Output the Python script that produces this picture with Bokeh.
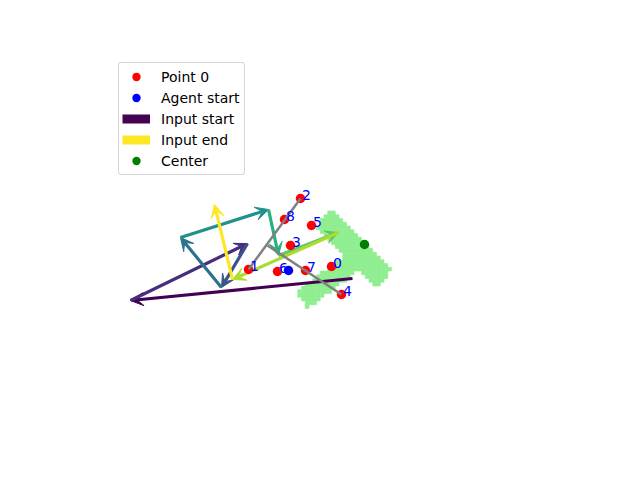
import numpy as np
from bokeh.plotting import figure
from bokeh.models import Range1d, Arrow, VeeHead, Legend, LegendItem
from bokeh.embed import file_html
from bokeh.resources import INLINE
from bokeh.core.properties import value

# ---- data (screen-like coordinates, y grows downward) ----
point_x = [331, 248, 300, 290, 341, 311, 277, 305, 284]
point_y = [266, 269, 198, 245, 294, 225, 271, 270, 219]
point_labels = ["0", "1", "2", "3", "4", "5", "6", "7", "8"]

agent_x = [288]
agent_y = [270]

center_x = [364]
center_y = [244]

input_x = [352, 130, 247, 221, 180, 268, 278, 338, 232, 214]
input_y = [278, 300, 243, 287, 237, 209, 255, 232, 279, 204]
input_colors = ["#440154", "#472d7b", "#3b528b", "#2c728e", "#21918c",
                "#28ae80", "#5ec962", "#addc30", "#fde725"]

gray_x0 = [248, 267]
gray_y0 = [269, 245]
gray_x1 = [300, 341]
gray_y1 = [198, 294]

# object made of two bars: (start, end, width)
object_bars = [((322.7, 218.7), (383.8, 277.8), 24),
               ((301.1, 299.8), (360.3, 255.4), 20)]
cell = 3.75

# ---- rasterize object into cells ----
gx = np.arange(286, 402, cell) + cell / 2
gy = np.arange(203, 320, cell) + cell / 2
GX, GY = np.meshgrid(gx, gy)
mask = np.zeros_like(GX, dtype=bool)
for (x0, y0), (x1, y1), w in object_bars:
    d = np.array([x1 - x0, y1 - y0], dtype=float)
    L = np.hypot(*d)
    u = d / L
    px = GX - x0
    py = GY - y0
    t = px * u[0] + py * u[1]
    n = -px * u[1] + py * u[0]
    mask |= (t >= 0) & (t <= L) & (np.abs(n) <= w / 2)
cells_x = GX[mask]
cells_y = GY[mask]

p = figure(width=640, height=480, output_backend="svg", toolbar_location=None,
           x_range=Range1d(0, 640), y_range=Range1d(480, 0), min_border=0)
p.axis.visible = False
p.grid.visible = False
p.outline_line_color = None

p.rect(x=cells_x, y=cells_y, width=cell, height=cell, fill_color="#90ee90",
       line_color="#90ee90", line_width=0.6, level="image")

for i in range(len(input_colors)):
    c = input_colors[i]
    p.add_layout(Arrow(x_start=input_x[i], y_start=input_y[i],
                       x_end=input_x[i + 1], y_end=input_y[i + 1],
                       line_color=c, line_width=3.2, level="underlay",
                       end=VeeHead(size=13, fill_color=c, line_color=c, line_width=1)))

r_pts = p.scatter(point_x, point_y, size=9.5, fill_color="red", line_color=None)
p.segment(gray_x0, gray_y0, gray_x1, gray_y1, line_color="gray", line_width=2.5)
r_agent = p.scatter(agent_x, agent_y, size=9.5, fill_color="blue", line_color=None)
r_center = p.scatter(center_x, center_y, size=9.5, fill_color="green", line_color=None)
p.text(x=point_x, y=point_y, text=point_labels, text_color="blue",
       text_font=value("DejaVu Sans"), text_font_size="14px",
       x_offset=1.5, y_offset=-4, text_baseline="alphabetic", text_align="left")

# legend-only swatches, placed outside the visible range
r_in_start = p.line(x=[-60, -50], y=[-60, -50], line_color=input_colors[0], line_width=9)
r_in_end = p.line(x=[-60, -50], y=[-60, -50], line_color=input_colors[-1], line_width=9)

legend = Legend(items=[
    LegendItem(label="Point 0", renderers=[r_pts]),
    LegendItem(label="Agent start", renderers=[r_agent]),
    LegendItem(label="Input start", renderers=[r_in_start]),
    LegendItem(label="Input end", renderers=[r_in_end]),
    LegendItem(label="Center", renderers=[r_center]),
], location=(118, 305), glyph_width=28, glyph_height=21, label_height=21,
    label_width=80, spacing=0, padding=3, margin=0, label_standoff=11,
    label_text_font="DejaVu Sans", label_text_font_size="14px",
    label_text_color="black",
    border_line_color="#cccccc", border_line_alpha=0.8,
    background_fill_alpha=0.8, border_radius=3)
p.add_layout(legend, "center")

open("out.html", "w").write(file_html(p, INLINE))
